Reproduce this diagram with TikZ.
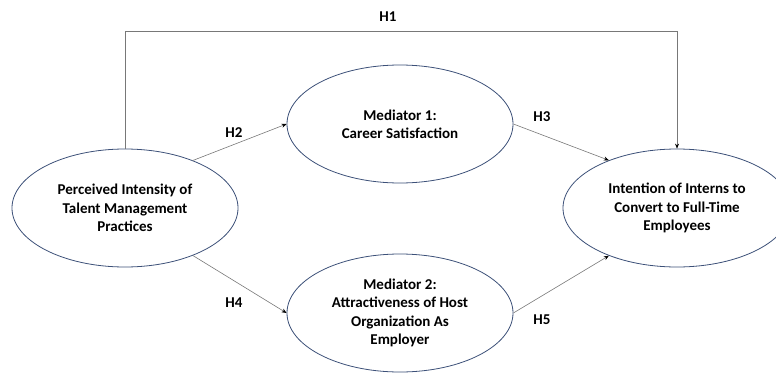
\documentclass[tikz,border=0pt]{standalone}
\usepackage{fontspec}
\setmainfont{Carlito}
\usetikzlibrary{arrows.meta,shapes.geometric}
\definecolor{ellcol}{RGB}{60,80,120}
\definecolor{arrcol}{RGB}{120,120,120}
\tikzset{
  construct/.style={ellipse,draw=ellcol,line width=0.8pt,minimum width=226pt,minimum height=118pt,inner sep=0pt,align=center,font=\bfseries\fontsize{15}{18.3}\selectfont},
  link/.style={draw=arrcol,line width=0.6pt,-{Stealth[length=5pt,width=4pt,color=black]}},
  hlabel/.style={font=\bfseries\fontsize{15}{17}\selectfont}
}
\begin{document}
\begin{tikzpicture}[x=1pt,y=-1pt]
\useasboundingbox (0,0) rectangle (776,372);
\node[construct] (piv) at (125,208) {Perceived Intensity of\\Talent Management\\Practices};
\node[construct] (m1) at (400,124) {Mediator 1:\\Career Satisfaction};
\node[construct] (m2) at (400,313) {Mediator 2:\\Attractiveness of Host\\Organization As\\Employer};
\node[construct,minimum width=228pt] (dv) at (677,208) {Intention of Interns to\\Convert to Full-Time\\Employees};
\coordinate (c1) at (125,31);
\coordinate (c2) at (677,31);
\draw[link] (piv.north) -- (c1) -- (c2) -- (dv.north);
\draw[link] (piv.35) -- (m1.west);
\draw[link] (piv.-35) -- (m2.west);
\draw[link] (m1.east) -- (dv.145);
\draw[link] (m2.east) -- (dv.-145);
\node[hlabel] (h1) at (388,17) {H1};
\node[hlabel] (h2) at (234,133) {H2};
\node[hlabel] (h3) at (542,117) {H3};
\node[hlabel] (h4) at (234,303) {H4};
\node[hlabel] (h5) at (542,320) {H5};
\end{tikzpicture}
\end{document}
